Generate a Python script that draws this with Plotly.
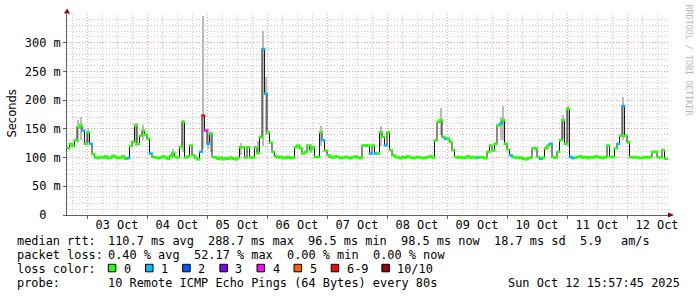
import pandas as pd
import plotly.graph_objects as go

# ---------------- data ----------------
start_time = "2025-10-02 16:00"
median_ms = [
    116, 124, 120, 130, 153, 156, 147, 124, 144, 124, 106, 100, 99, 101, 100, 102, 99, 100, 103, 101,
    99, 100, 102, 98, 99, 120, 127, 156, 124, 138, 147, 140, 133, 107, 101, 100, 99, 100, 102, 100,
    98, 103, 108, 101, 100, 118, 162, 100, 102, 121, 104, 100, 97, 110, 173, 147, 124, 142, 101, 100,
    98, 100, 97, 99, 98, 100, 98, 97, 99, 118, 118, 100, 118, 100, 100, 118, 108, 136, 289, 211,
    144, 126, 110, 102, 100, 101, 99, 100, 101, 99, 100, 118, 121, 116, 107, 110, 121, 113, 118, 101,
    101, 144, 130, 112, 104, 101, 100, 102, 101, 99, 100, 101, 100, 99, 101, 102, 100, 99, 121, 121,
    121, 107, 121, 107, 107, 144, 136, 121, 144, 113, 104, 101, 100, 99, 101, 100, 102, 100, 99, 100,
    101, 100, 99, 100, 101, 102, 100, 130, 162, 165, 136, 133, 133, 127, 113, 101, 100, 101, 99, 100,
    102, 100, 101, 99, 100, 101, 100, 99, 110, 121, 112, 124, 156, 159, 165, 124, 114, 104, 101, 100,
    99, 100, 98, 97, 99, 100, 116, 116, 101, 98, 100, 116, 121, 124, 101, 100, 110, 130, 165, 124,
    185, 101, 99, 100, 101, 102, 100, 101, 99, 101, 100, 102, 101, 100, 99, 101, 121, 101, 101, 116,
    124, 138, 190, 138, 127, 101, 100, 101, 100, 99, 100, 101, 100, 101, 110, 110, 101, 100, 113, 98,
]
loss_hours = [6, 9, 24, 33, 53, 54, 55, 56, 78, 79, 102, 121, 123, 127, 151, 164, 173, 177, 189, 193, 201, 202, 220, 222]
loss_counts = [1, 1, 1, 1, 1, 6, 4, 1, 1, 1, 1, 1, 1, 1, 1, 1, 1, 1, 1, 1, 1, 1, 1, 1]

smoke_hours = [4, 5, 8, 27, 30, 42, 46, 54, 56, 57, 69, 76, 78, 79, 97, 101, 125, 149, 173, 174, 198, 200, 222]
smoke_lo = [125, 130, 125, 120, 130, 100, 110, 115, 115, 110, 105, 105, 120, 140, 108, 120, 120, 140, 130, 130, 130, 120, 130]
smoke_hi = [165, 170, 150, 160, 156, 115, 165, 346, 150, 145, 125, 128, 320, 240, 124, 155, 155, 187, 170, 190, 175, 190, 205]

loss_labels = ["0", "1", "2", "3", "4", "5", "6-9", "10/10"]
loss_colors = ["#26ff00", "#00b8ff", "#0059ff", "#7e00ff", "#ff00ff", "#ff5f00", "#ff0000", "#a10000"]

y_tick_vals = [0, 50, 100, 150, 200, 250, 300]
y_tick_text = ["0\u00a0\u00a0", "50 m", "100 m", "150 m", "200 m", "250 m", "300 m"]

row_titles = ["median rtt:", "packet loss:", "loss color:", "probe:"]
median_stats = ["110.7 ms avg", "288.7 ms max", "96.5 ms min", "98.5 ms now", "18.7 ms sd", "5.9", "am/s"]
loss_stats = ["0.40 % avg", "52.17 % max", "0.00 % min", "0.00 % now"]
probe_text = "10 Remote ICMP Echo Pings (64 Bytes) every 80s"
stamp_text = "Sun Oct 12 15:57:45 2025"
watermark = "RRDTOOL / TOBI OETIKER"
y_title = "Seconds"

# ---------------- derived ----------------
times = pd.date_range(start_time, periods=len(median_ms), freq="h")
loss_full = [0] * len(median_ms)
for h, c in zip(loss_hours, loss_counts):
    loss_full[h] = c


def loss_color(c):
    if c <= 5:
        return loss_colors[c]
    if c < 10:
        return loss_colors[6]
    return loss_colors[7]


marker_colors = [loss_color(c) for c in loss_full]
smoke_t = [times[h] + pd.Timedelta(minutes=30) for h in smoke_hours]
smoke_h = [hi - lo for lo, hi in zip(smoke_lo, smoke_hi)]

# ---------------- geometry ----------------
W, H = 697, 297
ML, MR, MT, MB = 67, 29, 14, 82
PW, PH = W - ML - MR, H - MT - MB
x_start = pd.Timestamp(start_time)
x_end = x_start + pd.Timedelta(minutes=24 * PW)


def px(xp):
    return (xp - ML) / PW


def py(yp):
    return (MT + PH - yp) / PH


MONO = "DejaVu Sans Mono"
FS = 11.9
GRID_MINOR = "rgba(200,200,200,0.9)"
GRID_MAJOR = "rgba(240,150,150,0.9)"
AXIS = "#606060"

fig = go.Figure()

fig.add_trace(go.Bar(
    x=smoke_t, y=smoke_h, base=smoke_lo, width=2400000,
    marker=dict(color="rgba(160,160,160,0.7)", line=dict(width=0)),
    hoverinfo="skip", showlegend=False,
))
fig.add_trace(go.Scatter(
    x=times, y=median_ms, mode="lines", line=dict(color="#1a1a1a", width=1, shape="hv"),
    hoverinfo="skip", showlegend=False,
))
fig.add_trace(go.Scatter(
    x=times + pd.Timedelta(minutes=30), y=median_ms, mode="markers",
    marker=dict(symbol="line-ew", size=3, line=dict(color=marker_colors, width=2.5)),
    hoverinfo="skip", showlegend=False,
))

fig.update_layout(
    width=W, height=H, margin=dict(l=ML, r=MR, t=MT, b=MB, pad=0),
    paper_bgcolor="white", plot_bgcolor="white", bargap=0,
    font=dict(family=MONO, size=FS, color="#000"),
    xaxis=dict(
        type="date", range=[x_start, x_end], tick0="2025-10-03", dtick=86400000,
        ticklabelmode="period", tickformat="%d %b", ticklabelstandoff=-4,
        showgrid=True, gridcolor=GRID_MAJOR, griddash="1px,2px", gridwidth=1,
        minor=dict(dtick=6 * 3600000, showgrid=True, gridcolor=GRID_MINOR, griddash="1px,2px", ticks=""),
        showline=True, linecolor=AXIS, linewidth=1, ticks="outside", ticklen=3, tickcolor=AXIS,
        tickfont=dict(family=MONO, size=FS, color="#000"), zeroline=False,
    ),
    yaxis=dict(
        range=[0, 350], tickvals=y_tick_vals, ticktext=y_tick_text,
        showgrid=True, gridcolor=GRID_MAJOR, griddash="1px,2px", gridwidth=1,
        minor=dict(dtick=10, showgrid=True, gridcolor=GRID_MINOR, griddash="1px,2px", ticks=""),
        showline=True, linecolor=AXIS, linewidth=1, ticks="outside", ticklen=3, tickcolor=AXIS,
        tickfont=dict(family=MONO, size=FS, color="#000"), zeroline=False,
    ),
)

# axis arrows
fig.add_shape(type="path", xref="paper", yref="paper", xsizemode="pixel", ysizemode="pixel",
              xanchor=1, yanchor=0, path="M 0,2.5 L 6,0 L 0,-2.5 Z",
              fillcolor="#8b0000", line=dict(width=0))
fig.add_shape(type="path", xref="paper", yref="paper", xsizemode="pixel", ysizemode="pixel",
              xanchor=0, yanchor=1, path="M -3,0.5 L 3,0.5 L 0,5.5 Z",
              fillcolor="#8b0000", line=dict(width=0))

annotations = []


def txt(s, xp, yp, **kw):
    d = dict(text=s, x=px(xp), y=py(yp), xref="paper", yref="paper", showarrow=False,
             xanchor="left", yanchor="middle", font=dict(family=MONO, size=FS, color="#000"),
             borderpad=0)
    d.update(kw)
    annotations.append(d)


row_y = [241, 255, 269, 283]
for t, yy in zip(row_titles, row_y):
    txt(t, 15.5, yy)
for s, xp in zip(median_stats, [106.5, 206.5, 306.5, 399.5, 493, 578.5, 620]):
    txt(s, xp, row_y[0])
for s, xp in zip(loss_stats, [106.5, 192.5, 285.5, 372]):
    txt(s, xp, row_y[1])
box_x = [108.3, 145.5, 182.7, 219.9, 257.0, 294.0, 331.2, 381.9]
for lab, col, bx in zip(loss_labels, loss_colors, box_x):
    fig.add_shape(type="rect", xref="paper", yref="paper", x0=px(bx), x1=px(bx + 7.5),
                  y0=py(271.8), y1=py(264.3), fillcolor=col, line=dict(color="#000", width=1))
    txt(lab, bx + 14.5, row_y[2])
txt(probe_text, 106.5, row_y[3])
txt(stamp_text, 681, row_y[3], xanchor="right")

annotations.append(dict(text=y_title, x=px(11), y=py(113.5), xref="paper", yref="paper",
                        showarrow=False, textangle=-90, xanchor="center", yanchor="middle",
                        font=dict(family="DejaVu Sans", size=11.5, color="#000")))
annotations.append(dict(text=watermark, x=px(688.5), y=py(60), xref="paper", yref="paper",
                        showarrow=False, textangle=90, xanchor="center", yanchor="middle",
                        font=dict(family=MONO, size=8.4, color="#b8b8b8")))
fig.update_layout(annotations=annotations)

fig.write_html("out.html")
